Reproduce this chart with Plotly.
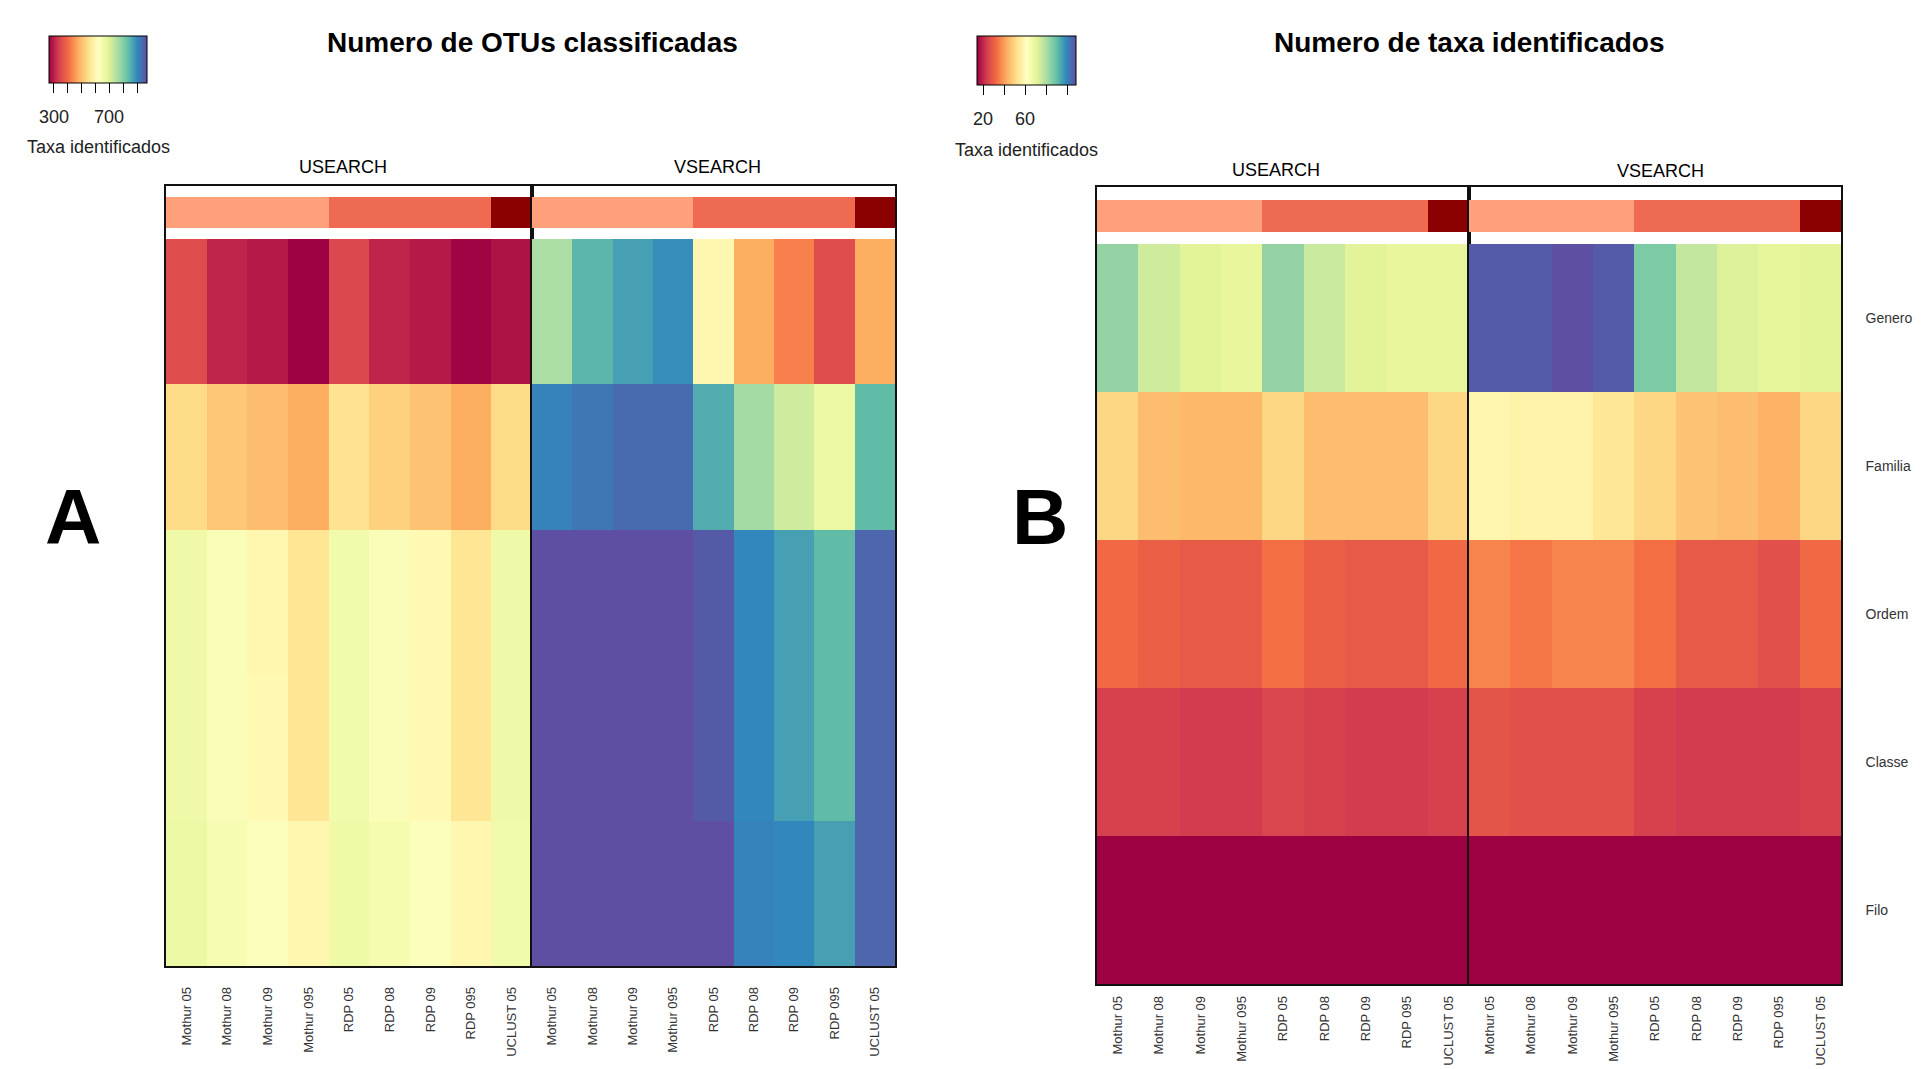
import plotly.graph_objects as go
import plotly.colors as pc

# ---------------- data ----------------
columns = ["Mothur 05", "Mothur 08", "Mothur 09", "Mothur 095",
           "RDP 05", "RDP 08", "RDP 09", "RDP 095", "UCLUST 05"]
ranks = ["Genero", "Familia", "Ordem", "Classe", "Filo"]
method_order = ["Mothur", "RDP", "UCLUST"]
methods = [c.split()[0] for c in columns]

# Panel A: Numero de OTUs classificadas (rows = ranks, cols = columns)
otus_usearch = [
    [357, 307, 293, 265, 350, 307, 293, 269, 286],
    [540, 512, 498, 477, 554, 526, 505, 477, 540],
    [660, 632, 596, 561, 653, 632, 603, 561, 660],
    [660, 632, 603, 561, 653, 632, 603, 561, 660],
    [667, 639, 625, 596, 663, 646, 625, 596, 653],
]
otus_vsearch = [
    [759, 843, 871, 892, 596, 477, 427, 357, 477],
    [907, 921, 935, 935, 857, 766, 716, 667, 836],
    [970, 970, 970, 970, 956, 900, 871, 836, 942],
    [970, 970, 970, 970, 956, 900, 871, 836, 942],
    [970, 970, 970, 970, 970, 907, 900, 871, 942],
]
# Panel B: Numero de taxa identificados
taxa_usearch = [
    [83, 74, 71, 69, 83, 75, 71, 69, 69],
    [50, 45, 44, 44, 50, 45, 45, 45, 50],
    [32, 30, 29, 29, 33, 30, 29, 29, 32],
    [24, 24, 23, 23, 25, 24, 23, 23, 24],
    [14, 14, 14, 14, 14, 14, 14, 14, 14],
]
taxa_vsearch = [
    [106, 106, 108, 106, 86, 76, 72, 70, 71],
    [58, 57, 57, 54, 50, 46, 45, 43, 50],
    [36, 34, 36, 36, 33, 29, 29, 27, 32],
    [28, 27, 27, 27, 24, 23, 23, 23, 24],
    [14, 14, 14, 14, 14, 14, 14, 14, 14],
]
legend_ticks_a = [300, 400, 500, 600, 700, 800, 900]
legend_labels_a = [300, 700]
legend_ticks_b = [20, 40, 60, 80, 100]
legend_labels_b = [20, 60]
legend_title = "Taxa identificados"

# ---------------- styling / layout ----------------
W, H = 1931, 1069
OFF = 8  # page body margin
FONT = "Liberation Sans, Arial, sans-serif"
method_colors = ["#FFA07A", "#EE6A50", "#8B0000"]
LINE = "#111111"


def fx(p):
    return (p - OFF) / W


def fy(p):
    return 1 - (p - OFF) / H


def zrange(*arrs):
    vals = [v for a in arrs for row in a for v in row]
    return min(vals), max(vals)


annot_cs = [[0, method_colors[0]], [0.25, method_colors[0]],
            [0.25, method_colors[1]], [0.75, method_colors[1]],
            [0.75, method_colors[2]], [1, method_colors[2]]]
method_codes = [[method_order.index(m) for m in methods]]

# panel geometry in pixels
panels = {
    "A": dict(x=[166, 532, 895], top=186, bar=(197, 228), main=(239, 966), standoff=14),
    "B": dict(x=[1097, 1469, 1841], top=187, bar=(200, 232), main=(244, 984), standoff=5),
}

fig = go.Figure()
layout = dict()
halves = [("A", 0, otus_usearch, "coloraxis"), ("A", 1, otus_vsearch, "coloraxis"),
          ("B", 0, taxa_usearch, "coloraxis2"), ("B", 1, taxa_vsearch, "coloraxis2")]

for i, (pn, h, z, cax) in enumerate(halves):
    g = panels[pn]
    xd = [fx(g["x"][h]), fx(g["x"][h + 1])]
    n_main = i + 1
    n_bar = i + 5
    fig.add_trace(go.Heatmap(z=z, x=columns, y=ranks, coloraxis=cax,
                             xaxis=f"x{n_main}", yaxis=f"y{n_main}"))
    fig.add_trace(go.Heatmap(z=method_codes, x=columns, colorscale=annot_cs,
                             zmin=0, zmax=2, showscale=False,
                             xaxis=f"x{n_bar}", yaxis=f"y{n_bar}"))
    sx = "" if n_main == 1 else str(n_main)
    last = (pn == "B" and h == 1)
    layout[f"xaxis{sx}"] = dict(domain=xd, anchor=f"y{n_main}", showline=True,
                                linecolor=LINE, linewidth=1.5, mirror=False,
                                ticks="", tickangle=-90, showgrid=False, zeroline=False,
                                ticklabelstandoff=g["standoff"],
                                tickfont=dict(family=FONT, size=13, color="#333333"))
    layout[f"yaxis{sx}"] = dict(domain=[fy(g["main"][1]), fy(g["main"][0])],
                                anchor=f"x{n_main}", showline=True, linecolor=LINE,
                                linewidth=1.5, mirror=True, ticks="",
                                autorange="reversed", showgrid=False, zeroline=False,
                                showticklabels=last, side="right",
                                ticklabelstandoff=20,
                                tickfont=dict(family=FONT, size=14, color="#333333"))
    bar_px = g["bar"][1] - g["bar"][0]
    gap_top = g["bar"][0] - g["top"]
    gap_bot = g["main"][0] - g["bar"][1]
    layout[f"xaxis{n_bar}"] = dict(domain=xd, anchor=f"y{n_bar}", showline=True,
                                   linecolor=LINE, linewidth=1.5, side="top",
                                   showticklabels=False, ticks="", showgrid=False,
                                   zeroline=False)
    layout[f"yaxis{n_bar}"] = dict(domain=[fy(g["main"][0]), fy(g["top"])],
                                   anchor=f"x{n_bar}", showline=True, linecolor=LINE,
                                   linewidth=1.5, mirror=True, ticks="",
                                   showticklabels=False, showgrid=False, zeroline=False,
                                   range=[-0.5 - gap_bot / bar_px, 0.5 + gap_top / bar_px])

spectral = pc.diverging.Spectral
annots = []


def legend(cax_name, left, top, length, thick, zr, ticks, labels, label_y, title_y):
    cmin, cmax = zr
    layout[cax_name] = dict(
        colorscale=spectral, cmin=cmin, cmax=cmax,
        colorbar=dict(orientation="h", x=fx(left), xanchor="left", y=fy(top),
                      yanchor="top", len=length, lenmode="pixels", thickness=thick,
                      thicknessmode="pixels", outlinewidth=1, outlinecolor="black",
                      xpad=0, ypad=0, ticks="outside", ticklen=10, tickcolor="black",
                      tickwidth=1, tickvals=ticks, ticktext=[""] * len(ticks)))
    for v in labels:
        px = left + (v - cmin) / (cmax - cmin) * length
        annots.append(dict(text=str(v), x=fx(px), y=fy(label_y), size=18, color="#222222"))
    annots.append(dict(text=legend_title, x=fx(left + length / 2), y=fy(title_y),
                       size=18, color="#222222"))


legend("coloraxis", 49, 36, 98, 47, zrange(otus_usearch, otus_vsearch),
       legend_ticks_a, legend_labels_a, 117, 147)
legend("coloraxis2", 977, 36, 99, 49, zrange(taxa_usearch, taxa_vsearch),
       legend_ticks_b, legend_labels_b, 119, 150)

annots += [
    dict(text="<b>Numero de OTUs classificadas</b>", x=fx(532), y=fy(42), size=28),
    dict(text="<b>Numero de taxa identificados</b>", x=fx(1469), y=fy(43), size=28),
    dict(text="USEARCH", x=fx(343), y=fy(167), size=18),
    dict(text="VSEARCH", x=fx(717), y=fy(167), size=18),
    dict(text="USEARCH", x=fx(1276), y=fy(170), size=18),
    dict(text="VSEARCH", x=fx(1660), y=fy(171), size=18),
    dict(text="<b>A</b>", x=fx(73), y=fy(517), size=78),
    dict(text="<b>B</b>", x=fx(1040), y=fy(517), size=78),
]
layout["annotations"] = [
    dict(text=a["text"], x=a["x"], y=a["y"], xref="paper", yref="paper",
         xanchor="center", yanchor="middle", showarrow=False,
         font=dict(family=FONT, size=a["size"], color=a.get("color", "#000000")))
    for a in annots
]

fig.update_layout(**layout)
fig.update_layout(width=W, height=H, margin=dict(l=0, r=0, t=0, b=0),
                  paper_bgcolor="white", plot_bgcolor="white", showlegend=False,
                  font=dict(family=FONT))
fig.write_html("out.html")
